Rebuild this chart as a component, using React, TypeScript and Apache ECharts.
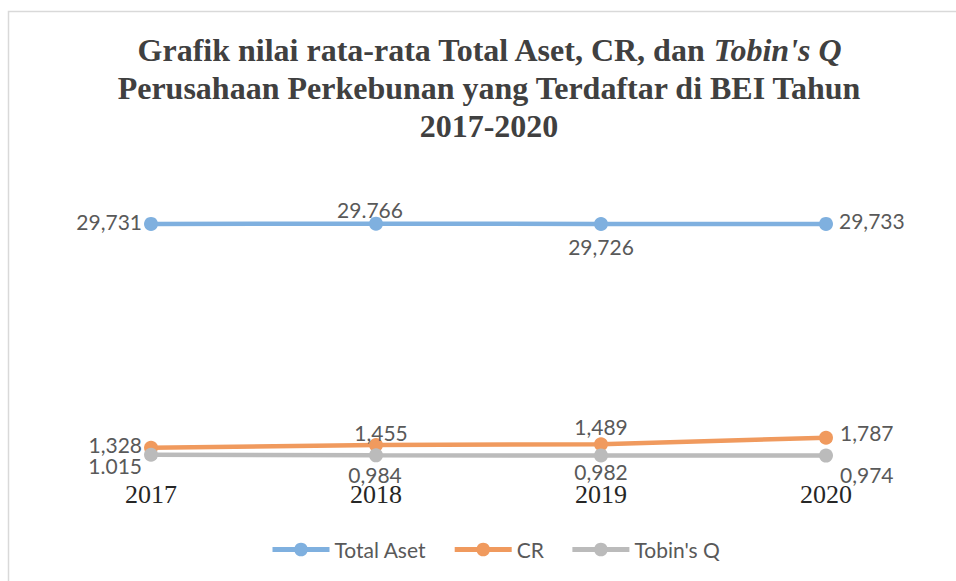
import React, { useEffect, useRef } from "react";
import * as echarts from "echarts";

const years = ["2017", "2018", "2019", "2020"];
const totalAset = [29.731, 29.766, 29.726, 29.733];
const cr = [1.328, 1.455, 1.489, 1.787];
const tobinsQ = [1.015, 0.984, 0.982, 0.974];
const totalAsetLabels = ["29,731", "29.766", "29,726", "29,733"];
const crLabels = ["1,328", "1,455", "1,489", "1,787"];
const tobinsQLabels = ["1.015", "0,984", "0,982", "0,974"];

// label placement per point: [position, distance, offsetX, offsetY]
const totalPlace: any[] = [["left", 2, 0, -2.5], ["top", 0, -6, 3], ["bottom", 0, 0, 5.5], ["right", 6, 0, -3.5]];
const crPlace: any[] = [["left", 2, 0, -3.3], ["top", 0, 5, 5], ["top", 0, 0, 0], ["right", 7, 0, -5.3]];
const tobinPlace: any[] = [["left", 2, 0, 11.3], ["bottom", 0, -1, 1.6], ["bottom", 0, 0, -1.4], ["right", 7, 0, 19]];

const labelFont = "Lato, 'Open Sans', sans-serif";

function buildData(values: number[], texts: string[], place: any[]) {
  return values.map((v, i) => ({
    value: v,
    label: {
      show: true,
      position: place[i][0],
      distance: place[i][1],
      offset: [place[i][2], place[i][3]],
      formatter: () => texts[i],
    },
  }));
}

export default function App() {
  const ref = useRef<HTMLDivElement>(null);
  useEffect(() => {
    if (!ref.current) return;
    const chart = echarts.init(ref.current, undefined, { renderer: "svg" });
    const lineSeries = (name: string, color: string, yIdx: number, data: any[]) => ({
      name,
      type: "line",
      yAxisIndex: yIdx,
      data,
      symbol: "circle",
      symbolSize: 14,
      lineStyle: { color, width: 4.5 },
      itemStyle: { color },
      label: { color: "#595959", fontSize: 21, fontFamily: labelFont },
      emphasis: { disabled: true },
    });
    chart.setOption({
      animation: false,
      backgroundColor: "#ffffff",
      title: {
        left: 489,
        top: 31,
        textAlign: "center",
        padding: 0,
        text:
          "{a|Grafik nilai rata-rata Total Aset, CR, dan }{b|Tobin's Q}\n{a|Perusahaan Perkebunan yang Terdaftar di BEI Tahun}\n{a|2017-2020}",
        textStyle: {
          rich: {
            a: { fontFamily: "'Liberation Serif', serif", fontWeight: "bold", fontSize: 32, color: "#404040", lineHeight: 38 },
            b: { fontFamily: "'Liberation Serif', serif", fontWeight: "bold", fontStyle: "italic", fontSize: 32, color: "#404040", lineHeight: 38 },
          },
        },
      },
      graphic: [
        {
          type: "rect",
          shape: { x: 8.5, y: 11.5, width: 1000, height: 700 },
          style: { fill: "none", stroke: "#D9D9D9", lineWidth: 1.5 },
          silent: true,
        },
      ],
      legend: {
        left: 270,
        top: 539,
        padding: 0,
        itemWidth: 57,
        itemHeight: 17,
        itemGap: 26,
        lineStyle: { width: 5 },
        textStyle: { color: "#595959", fontSize: 21, fontFamily: labelFont },
        data: ["Total Aset", "CR", "Tobin's Q"],
      },
      grid: { left: 38.5, right: 17.5, top: 182, bottom: 120.5, containLabel: false },
      xAxis: {
        type: "category",
        data: years,
        boundaryGap: true,
        axisLine: { show: false },
        axisTick: { show: false },
        splitLine: { show: false },
        axisLabel: { margin: 21, fontSize: 26, color: "#262626", fontFamily: "'Liberation Serif', serif" },
      },
      yAxis: [
        { type: "value", min: 0.75, max: 13.45, show: false, splitLine: { show: false } },
        { type: "value", min: 0, max: 35, show: false, splitLine: { show: false } },
      ],
      series: [
        lineSeries("Total Aset", "#7FB0DF", 1, buildData(totalAset, totalAsetLabels, totalPlace)),
        lineSeries("CR", "#F09A5E", 0, buildData(cr, crLabels, crPlace)),
        lineSeries("Tobin's Q", "#BBBBBB", 0, buildData(tobinsQ, tobinsQLabels, tobinPlace)),
      ],
    });
    return () => chart.dispose();
  }, []);
  return <div ref={ref} style={{ position: "fixed", left: 0, top: 0, width: 956, height: 581 }} />;
}
